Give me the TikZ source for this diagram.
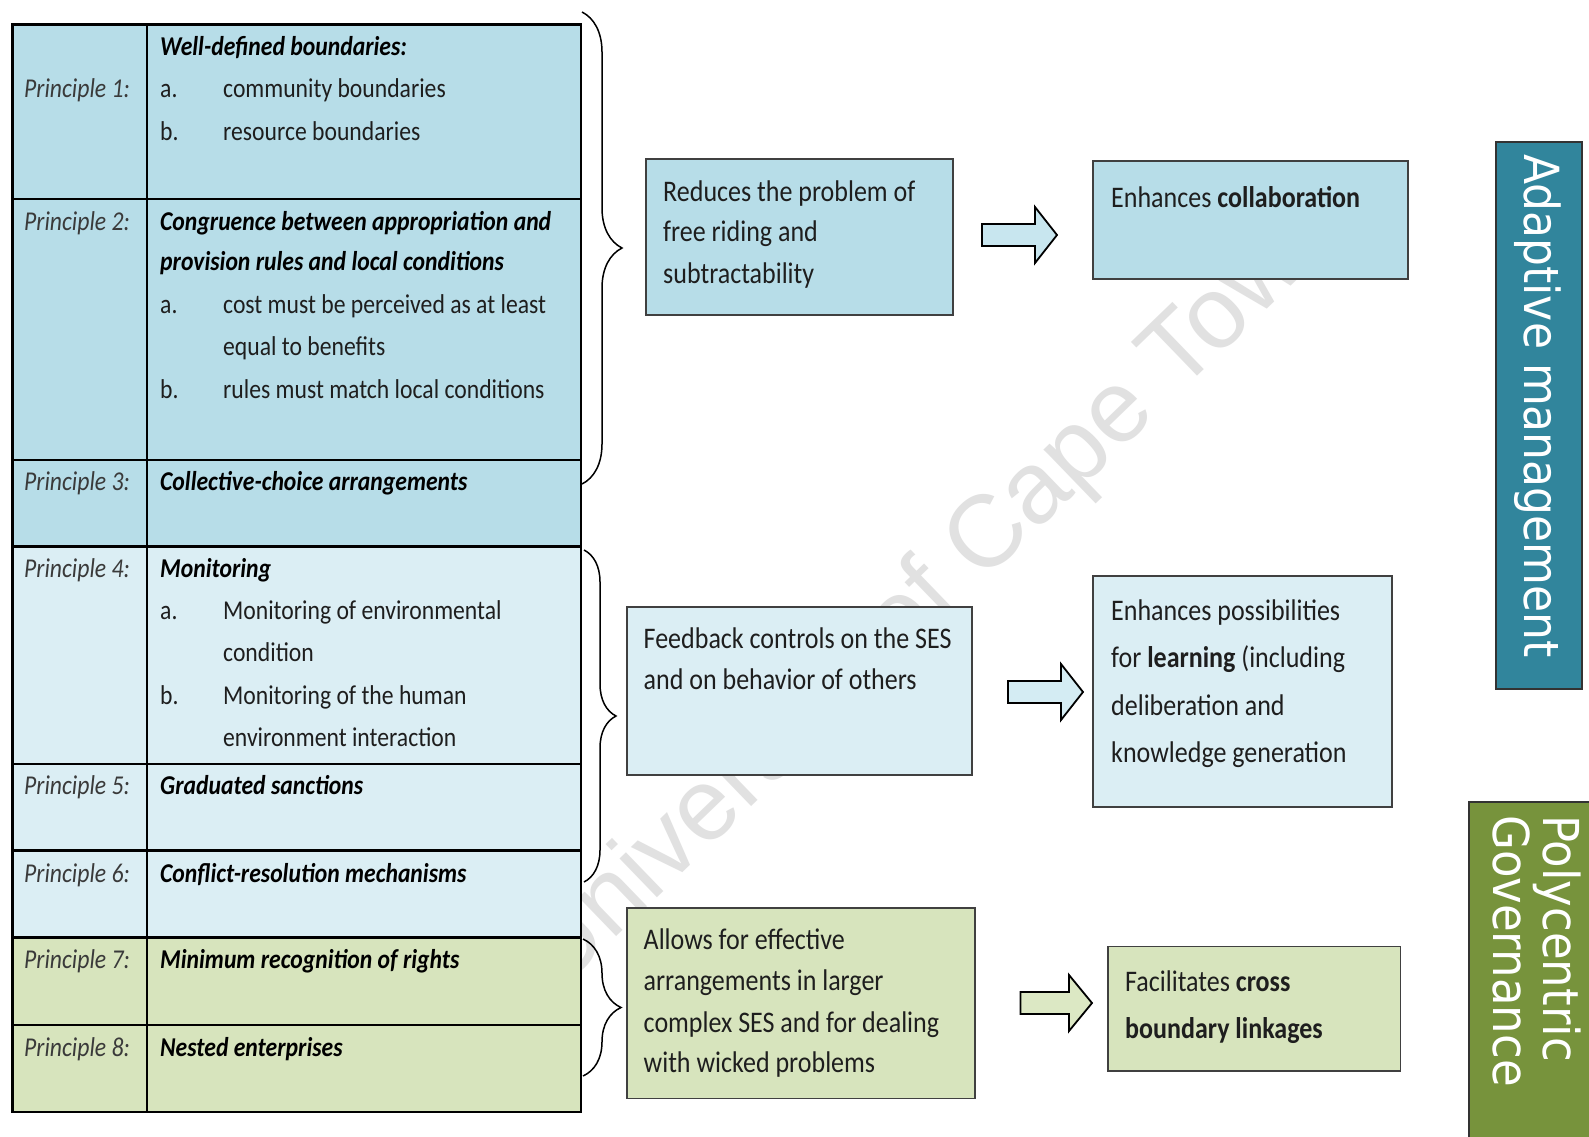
\documentclass[tikz,border=0pt]{standalone}
\usepackage{fontspec}
\usepackage{graphicx}
\setmainfont[FakeStretch=0.87]{Carlito}
\newfontfamily\barfont{DejaVu Sans}
\newfontfamily\wmfont{Liberation Sans}
\usetikzlibrary{decorations.pathreplacing,calc}
\definecolor{blueA}{HTML}{B7DDE8}
\definecolor{blueB}{HTML}{DBEEF4}
\definecolor{greenA}{HTML}{D7E4BD}
\definecolor{tealbar}{HTML}{31859C}
\definecolor{olivebar}{HTML}{77933C}
\definecolor{arrblue}{HTML}{C8E6EF}
\definecolor{arrblue2}{HTML}{D4ECF3}
\definecolor{arrgreen}{HTML}{DCE8C4}
\definecolor{labgray}{HTML}{3A3A3A}
\definecolor{txtdark}{HTML}{1E1E1E}
\definecolor{wmgray}{HTML}{E1E1E1}
\newcommand\tabsz{\fontsize{27.2}{42.6}\selectfont}
\newcommand\boxsz{\fontsize{29.9}{41.3}\selectfont}
\newcommand\blockarr[4]{\draw[barr,fill=#3] (#1) ++(0,-11) -- ++(#2,0) -- ++(0,-17) -- ++(#4,28) -- ++(-#4,28) -- ++(0,-17) -- ++(-#2,0) -- cycle;}
\begin{document}
\begin{tikzpicture}[x=1pt,y=-1pt,
  tabline/.style={draw=black,line width=2.4pt},
  lab/.style={anchor=base west,inner sep=0,font=\tabsz\itshape,text=labgray},
  ttl/.style={anchor=base west,inner sep=0,font=\tabsz\bfseries\itshape,text=black},
  itm/.style={anchor=base west,inner sep=0,font=\tabsz,text=txtdark},
  boxstyle/.style={draw=black!75,line width=1.6pt,anchor=north west,inner sep=0},
  boxtxt/.style={anchor=base west,inner sep=0,font=\boxsz,text=txtdark},
  barr/.style={draw=black,line width=1.8pt,line join=miter},
  brc/.style={draw=black,line width=1.5pt,decorate,decoration={brace,amplitude=#1}},
  barbox/.style={draw=black!80,line width=1.6pt,anchor=north west,inner sep=0},
  bartxt/.style={inner sep=0,text=white,font=\barfont\fontsize{44}{51}\selectfont},
  wm/.style={inner sep=0,text=wmgray,font=\wmfont\fontsize{102}{110}\selectfont}
]
\useasboundingbox (0,0) rectangle (1589,1136);
\fill[white] (0,0) rectangle (1589,1136);

% watermark
\node[wm,rotate=44] (wm) at (936,592) {University of Cape Town};

% table rows
\node[tabline,fill=blueA,anchor=north west,inner sep=0,minimum width=568.6,minimum height=174.3] (r1) at (11.1,23.3) {};
\node[tabline,fill=blueA,anchor=north west,inner sep=0,minimum width=568.6,minimum height=261.4] (r2) at (11.1,197.6) {};
\node[tabline,fill=blueA,anchor=north west,inner sep=0,minimum width=568.6,minimum height=86.2] (r3) at (11.1,459) {};
\node[tabline,fill=blueB,anchor=north west,inner sep=0,minimum width=568.6,minimum height=217.8] (r4) at (11.1,545.2) {};
\node[tabline,fill=blueB,anchor=north west,inner sep=0,minimum width=568.6,minimum height=86.2] (r5) at (11.1,763) {};
\node[tabline,fill=blueB,anchor=north west,inner sep=0,minimum width=568.6,minimum height=87.2] (r6) at (11.1,849.2) {};
\node[tabline,fill=greenA,anchor=north west,inner sep=0,minimum width=568.6,minimum height=87.1] (r7) at (11.1,936.4) {};
\node[tabline,fill=greenA,anchor=north west,inner sep=0,minimum width=568.6,minimum height=87.2] (r8) at (11.1,1023.5) {};
\draw[tabline] (147,23.3) -- (147,1110.7);

% row 1
\node[lab] (p1) at (24,97.5) {Principle 1:};
\node[ttl] (t1) at (160,55) {Well-defined boundaries:};
\node[itm] (t1a) at (160,97.5) {a.};
\node[itm] (t1at) at (223,97.5) {community boundaries};
\node[itm] (t1b) at (160,140) {b.};
\node[itm] (t1bt) at (223,140) {resource boundaries};
% row 2
\node[lab] (p2) at (24,230) {Principle 2:};
\node[ttl] (t2) at (160,230) {Congruence between appropriation and};
\node[ttl] (t2l) at (160,270.5) {provision rules and local conditions};
\node[itm] (t2a) at (160,313) {a.};
\node[itm] (t2at) at (223,313) {cost must be perceived as at least};
\node[itm] (t2at2) at (223,355.5) {equal to benefits};
\node[itm] (t2b) at (160,398) {b.};
\node[itm] (t2bt) at (223,398) {rules must match local conditions};
% row 3
\node[lab] (p3) at (24,490) {Principle 3:};
\node[ttl] (t3) at (160,490) {Collective-choice arrangements};
% row 4
\node[lab] (p4) at (24,577.5) {Principle 4:};
\node[ttl] (t4) at (160,577.5) {Monitoring};
\node[itm] (t4a) at (160,619) {a.};
\node[itm] (t4at) at (223,619) {Monitoring of environmental};
\node[itm] (t4at2) at (223,661.5) {condition};
\node[itm] (t4b) at (160,704) {b.};
\node[itm] (t4bt) at (223,704) {Monitoring of the human};
\node[itm] (t4bt2) at (223,746.5) {environment interaction};
% rows 5-8
\node[lab] (p5) at (24,794) {Principle 5:};
\node[ttl] (t5) at (160,794) {Graduated sanctions};
\node[lab] (p6) at (24,882.5) {Principle 6:};
\node[ttl] (t6) at (160,882.5) {Conflict-resolution mechanisms};
\node[lab] (p7) at (24,968.5) {Principle 7:};
\node[ttl] (t7) at (160,968.5) {Minimum recognition of rights};
\node[lab] (p8) at (24,1056.5) {Principle 8:};
\node[ttl] (t8) at (160,1056.5) {Nested enterprises};

% braces
\coordinate (b1t) at (582,12);
\coordinate (b1b) at (582,484);
\coordinate (b2t) at (584,550);
\coordinate (b2b) at (584,882);
\coordinate (b3t) at (583,939);
\coordinate (b3b) at (583,1076);
\draw[brc=40] (b1t) -- (b1b);
\draw[brc=32] (b2t) -- (b2b);
\draw[brc=38] (b3t) -- (b3b);

% boxes
\node[boxstyle,fill=blueA,minimum width=307,minimum height=156] (boxA) at (645,158) {};
\node[boxtxt] (tA1) at (663,201) {Reduces the problem of};
\node[boxtxt] (tA2) at (663,241.5) {free riding and};
\node[boxtxt] (tA3) at (663,283) {subtractability};

\node[boxstyle,fill=blueA,minimum width=315,minimum height=118] (boxB) at (1092,160) {};
\node[boxtxt] (tB1) at (1111,207) {Enhances \textbf{collaboration}};

\node[boxstyle,fill=blueB,minimum width=345,minimum height=168] (boxC) at (626,606) {};
\node[boxtxt] (tC1) at (643.5,648) {Feedback controls on the SES};
\node[boxtxt] (tC2) at (643.5,689.5) {and on behavior of others};

\node[boxstyle,fill=blueB,minimum width=299,minimum height=231] (boxD) at (1092,575) {};
\node[boxtxt] (tD1) at (1111,620.5) {Enhances possibilities};
\node[boxtxt] (tD2) at (1111,667) {for \textbf{learning} (including};
\node[boxtxt] (tD3) at (1111,715) {deliberation and};
\node[boxtxt] (tD4) at (1111,762.5) {knowledge generation};

\node[boxstyle,fill=greenA,minimum width=348,minimum height=190.5] (boxE) at (626,907) {};
\node[boxtxt] (tE1) at (643.5,949) {Allows for effective};
\node[boxtxt] (tE2) at (643.5,990.5) {arrangements in larger};
\node[boxtxt] (tE3) at (643.5,1032) {complex SES and for dealing};
\node[boxtxt] (tE4) at (643.5,1072.6) {with wicked problems};

\node[boxstyle,fill=greenA,minimum width=292.5,minimum height=124.5] (boxF) at (1107,945.5) {};
\node[boxtxt] (tF1) at (1125,991.5) {Facilitates \textbf{cross}};
\node[boxtxt] (tF2) at (1125,1038) {\textbf{boundary linkages}};

% block arrows
\coordinate (a1) at (982,235);
\coordinate (a2) at (1008,692);
\coordinate (a3) at (1020.5,1003);
\blockarr{a1}{53}{arrblue}{22}
\blockarr{a2}{53}{arrblue2}{22}
\blockarr{a3}{48.5}{arrgreen}{23}

% side bars
\node[barbox,fill=tealbar,minimum width=86,minimum height=547] (am) at (1495,141) {};
\node[bartxt,rotate=-90] (amt) at (1538,406) {\scalebox{1}[1.1]{Adaptive management}};
\node[barbox,fill=olivebar,minimum width=130,minimum height=345] (pg) at (1468,801) {};
\node[bartxt,rotate=-90,align=left,anchor=north west,font=\barfont\fontsize{45}{50}\selectfont] (pgt) at (1581,815) {\scalebox{1}[1.1]{Polycentric}\\\scalebox{1}[1.1]{Governance}};
\end{tikzpicture}
\end{document}
